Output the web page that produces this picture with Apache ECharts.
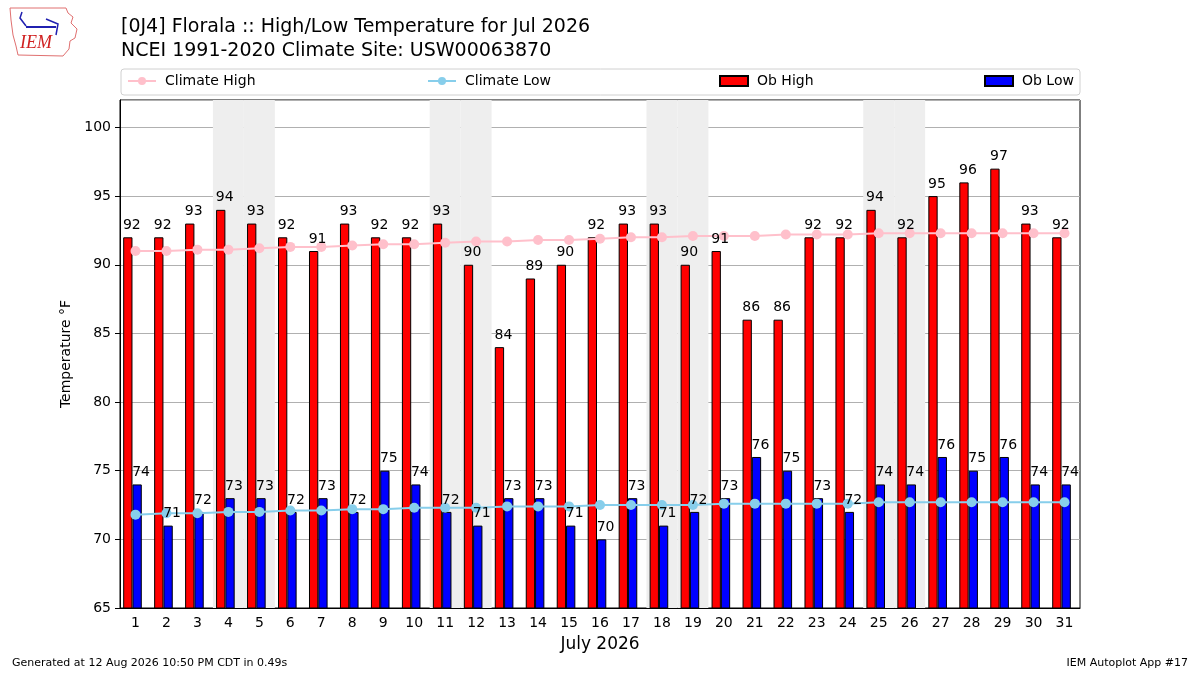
<!DOCTYPE html>
<html>
<head>
<meta charset="utf-8">
<script src="https://cdn.jsdelivr.net/npm/echarts@6/dist/echarts.min.js"></script>
<style>
  html, body { margin: 0; padding: 0; background: #fff; }
  #chart { width: 1200px; height: 675px; }
</style>
</head>
<body>
<div id="chart"></div>
<script type="text/javascript">
// days of July 2026
var days = [];
for (var d = 1; d <= 31; d++) days.push(String(d));

var obHigh = [92, 92, 93, 94, 93, 92, 91, 93, 92, 92, 93, 90, 84, 89, 90, 92,
              93, 93, 90, 91, 86, 86, 92, 92, 94, 92, 95, 96, 97, 93, 92];
var obLow = [74, 71, 72, 73, 73, 72, 73, 72, 75, 74, 72, 71, 73, 73, 71, 70,
             73, 71, 72, 73, 76, 75, 73, 72, 74, 74, 76, 75, 76, 74, 74];
var climateHigh = [91.0, 91.0, 91.1, 91.1, 91.2, 91.3, 91.3, 91.4, 91.5, 91.5, 91.6,
                   91.7, 91.7, 91.8, 91.8, 91.9, 92.0, 92.0, 92.1, 92.1, 92.1, 92.2,
                   92.2, 92.2, 92.3, 92.3, 92.3, 92.3, 92.3, 92.3, 92.3];
var climateLow = [71.8, 71.9, 71.9, 72.0, 72.0, 72.1, 72.1, 72.2, 72.2, 72.3, 72.3,
                  72.3, 72.4, 72.4, 72.4, 72.5, 72.5, 72.5, 72.5, 72.6, 72.6, 72.6,
                  72.6, 72.6, 72.7, 72.7, 72.7, 72.7, 72.7, 72.7, 72.7];
var weekendDays = [4, 5, 11, 12, 18, 19, 25, 26];
var yTop = 102;

var font = 'DejaVu Sans';
var chart = echarts.init(document.getElementById('chart'));

// value labels drawn by an invisible scatter so they sit above the climate lines
function labelSeries(name, data, dx) {
    return {
        name: name,
        type: 'scatter',
        z: 5,
        silent: true,
        symbolSize: 0,
        itemStyle: { opacity: 1 },
        label: {
            show: true,
            position: 'top',
            distance: 5,
            offset: [dx, 0],
            color: '#000',
            fontFamily: font,
            fontSize: 14
        },
        data: data
    };
}

function legendAt(name, left, icon) {
    var lg = {
        data: [name],
        left: left,
        top: 69,
        itemWidth: 28,
        itemHeight: 10,
        textStyle: { fontFamily: font, fontSize: 14, color: '#000', padding: [0, 0, 0, 4] }
    };
    if (icon) lg.icon = icon;
    return lg;
}

var option = {
    backgroundColor: '#fff',
    animation: false,
    title: {
        text: '[0J4] Florala :: High/Low Temperature for Jul 2026\nNCEI 1991-2020 Climate Site: USW00063870',
        left: 116,
        top: 10,
        textStyle: { fontFamily: font, fontSize: 19, fontWeight: 'normal', color: '#000', lineHeight: 24 }
    },
    legend: [
        legendAt('Climate High', 122),
        legendAt('Climate Low', 422),
        legendAt('Ob High', 714, 'rect'),
        legendAt('Ob Low', 979, 'rect')
    ],
    graphic: [
        { type: 'rect', z: -1, shape: { x: 121, y: 69, width: 959, height: 26, r: 3 },
          style: { fill: '#fff', stroke: '#d0d0d0', lineWidth: 1 } },
        // IEM logo
        { type: 'polygon', shape: { points: [[10, 8], [66, 8], [68, 13], [73, 17], [71, 23], [77, 29], [75, 38],
              [70, 41], [69, 49], [63, 56], [18, 55], [16, 46], [13, 35], [11, 20]] },
          style: { fill: 'none', stroke: '#e07070', lineWidth: 1 } },
        { type: 'polyline', shape: { points: [[26, 27], [56, 27]] }, style: { stroke: '#2020b0', lineWidth: 2 } },
        { type: 'polyline', shape: { points: [[22, 12], [20, 18], [26, 26]] }, style: { stroke: '#2020b0', lineWidth: 1.5 } },
        { type: 'polyline', shape: { points: [[46, 19], [58, 24], [56, 35]] }, style: { stroke: '#2020b0', lineWidth: 1.5 } },
        { type: 'text', left: 20, top: 34,
          style: { text: 'IEM', fill: '#d02020', font: 'italic 18px "Liberation Serif"' } },
        // footer
        { type: 'text', left: 12, top: 658,
          style: { text: 'Generated at 12 Aug 2026 10:50 PM CDT in 0.49s', fill: '#000', font: '11px "DejaVu Sans"' } },
        { type: 'text', right: 12, top: 658,
          style: { text: 'IEM Autoplot App #17', fill: '#000', font: '11px "DejaVu Sans"' } }
    ],
    grid: {
        left: 120, right: 120, top: 100, bottom: 67,
        show: true, borderColor: '#000', borderWidth: 1, backgroundColor: 'transparent'
    },
    xAxis: [{
        type: 'category',
        data: days,
        name: 'July 2026',
        nameLocation: 'middle',
        nameGap: 28,
        nameTextStyle: { fontFamily: font, fontSize: 17, color: '#000' },
        axisLine: { lineStyle: { color: '#000' } },
        axisTick: { alignWithLabel: true, length: 5, lineStyle: { color: '#000' } },
        axisLabel: { interval: 0, margin: 8, fontFamily: font, fontSize: 14, color: '#000' },
        splitLine: { show: false }
    }, {
        type: 'category',
        data: days,
        show: false
    }],
    yAxis: {
        type: 'value',
        min: 65,
        max: yTop,
        interval: 5,
        name: 'Temperature °F',
        nameLocation: 'middle',
        nameGap: 44,
        nameTextStyle: { fontFamily: font, fontSize: 14, color: '#000' },
        axisLine: { show: true, lineStyle: { color: '#000' } },
        axisTick: { show: true, length: 5, lineStyle: { color: '#000' } },
        axisLabel: { margin: 9, fontFamily: font, fontSize: 14, color: '#000', showMaxLabel: false },
        splitLine: { show: true, lineStyle: { color: '#b0b0b0', width: 1 } }
    },
    series: [
        {
            name: 'weekend',
            type: 'bar',
            xAxisIndex: 1,
            barWidth: '100%',
            silent: true,
            z: 0,
            itemStyle: { color: '#eeeeee' },
            data: days.map(function (d) { return weekendDays.indexOf(+d) >= 0 ? yTop : null; })
        },
        {
            name: 'Ob High',
            type: 'bar',
            barWidth: 9.3,
            barGap: 0,
            itemStyle: { color: '#ff0000', borderColor: '#000', borderWidth: 1 },
            data: obHigh
        },
        {
            name: 'Ob Low',
            type: 'bar',
            barWidth: 9.3,
            barGap: 0,
            itemStyle: { color: '#0000ff', borderColor: '#000', borderWidth: 1 },
            data: obLow
        },
        {
            // empty spacer so the high/low pair sits left of the day tick
            name: 'spacer',
            type: 'bar',
            barWidth: 6,
            barGap: 0,
            data: days.map(function () { return null; })
        },
        {
            name: 'Climate High',
            type: 'line',
            z: 3,
            symbol: 'circle',
            symbolSize: 10,
            color: '#ffc0cb',
            lineStyle: { color: '#ffc0cb', width: 2 },
            itemStyle: { color: '#ffc0cb' },
            data: climateHigh
        },
        {
            name: 'Climate Low',
            type: 'line',
            z: 3,
            symbol: 'circle',
            symbolSize: 10,
            color: '#87ceeb',
            lineStyle: { color: '#87ceeb', width: 2 },
            itemStyle: { color: '#87ceeb' },
            data: climateLow
        },
        labelSeries('highLabels', obHigh, -3.7),
        labelSeries('lowLabels', obLow, 5.6)
    ]
};

chart.setOption(option);
</script>
</body>
</html>
